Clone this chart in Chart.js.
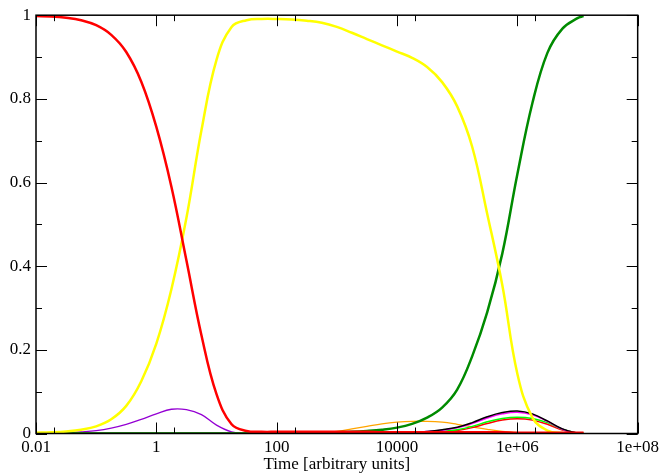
<!DOCTYPE html>
<html>
<head>
<meta charset="utf-8">
<script src="https://cdn.jsdelivr.net/npm/chart.js@4.4.1/dist/chart.umd.min.js"></script>
<style>
  html, body { margin: 0; padding: 0; background: #fff; }
</style>
</head>
<body>
<canvas id="grafico" width="663" height="475"></canvas>
<script>
// tempo (escala log)
const tempo = [0.01, 0.0178, 0.0316, 0.0562, 0.1, 0.178, 0.316, 0.562, 1, 1.78,
  3.16, 5.62, 10, 17.8, 31.6, 56.2, 100, 178, 316, 562,
  1000, 1780, 3160, 5620, 1e4, 17800, 31600, 56200, 1e5, 178000,
  316000, 562000, 1e6, 1780000, 3160000, 5620000, 1e7, 12600000];

const vermelho = [0.998, 0.997, 0.994, 0.988, 0.976, 0.953, 0.912, 0.841, 0.733, 0.590,
  0.414, 0.235, 0.094, 0.022, 0.006, 0.004, 0.004, 0.004, 0.004, 0.004,
  0.004, 0.004, 0.004, 0.003, 0.003, 0.003, 0.003, 0.003, 0.003, 0.003,
  0.003, 0.003, 0.002, 0.002, 0.002, 0.002, 0.002, 0.002];
const amarelo = [0.002, 0.003, 0.005, 0.009, 0.017, 0.034, 0.066, 0.125, 0.215, 0.345,
  0.515, 0.725, 0.893, 0.972, 0.988, 0.991, 0.991, 0.990, 0.987, 0.982,
  0.972, 0.958, 0.943, 0.928, 0.913, 0.898, 0.876, 0.840, 0.782, 0.685,
  0.525, 0.355, 0.143, 0.038, 0.007, 0.001, 0.000, 0.000];
const verdeEscuro = [0, 0, 0, 0, 0, 0, 0, 0, 0, 0,
  0, 0, 0, 0, 0, 0, 0, 0.001, 0.001, 0.002,
  0.003, 0.004, 0.006, 0.009, 0.014, 0.023, 0.038, 0.062, 0.105, 0.185,
  0.290, 0.430, 0.620, 0.790, 0.910, 0.968, 0.993, 0.998];
const violeta = [0.000, 0.001, 0.002, 0.004, 0.007, 0.013, 0.022, 0.034, 0.047, 0.058,
  0.057, 0.045, 0.020, 0.004, 0.000, 0, 0, 0, 0, 0,
  0, 0, 0, 0, 0, 0, 0, 0, 0, 0,
  0, 0, 0, 0, 0, 0, 0, 0];
const laranja = [0, 0, 0, 0, 0, 0, 0, 0, 0, 0,
  0, 0, 0, 0, 0, 0, 0, 0, 0, 0.001,
  0.005, 0.011, 0.017, 0.023, 0.027, 0.029, 0.029, 0.027, 0.022, 0.016,
  0.010, 0.005, 0.002, 0, 0, 0, 0, 0];
const preto = [0, 0, 0, 0, 0, 0, 0, 0, 0, 0,
  0, 0, 0, 0, 0, 0, 0, 0, 0, 0,
  0, 0, 0.001, 0.001, 0.002, 0.003, 0.005, 0.009, 0.015, 0.026,
  0.040, 0.050, 0.054, 0.047, 0.030, 0.011, 0.001, 0.000];
const magenta = [0, 0, 0, 0, 0, 0, 0, 0, 0, 0,
  0, 0, 0, 0, 0, 0, 0, 0, 0, 0,
  0, 0, 0.001, 0.001, 0.002, 0.003, 0.005, 0.008, 0.014, 0.024,
  0.037, 0.047, 0.051, 0.045, 0.029, 0.010, 0.001, 0.000];
const verdeClaro = [0, 0, 0, 0, 0, 0, 0, 0, 0, 0,
  0, 0, 0, 0, 0, 0, 0, 0, 0, 0,
  0, 0, 0.000, 0.001, 0.001, 0.002, 0.003, 0.005, 0.009, 0.017,
  0.028, 0.036, 0.039, 0.036, 0.026, 0.010, 0.001, 0.000];
const vermelho2 = [0, 0, 0, 0, 0, 0, 0, 0, 0, 0,
  0, 0, 0, 0, 0, 0, 0, 0, 0, 0,
  0, 0, 0.000, 0.000, 0.001, 0.001, 0.002, 0.004, 0.007, 0.014,
  0.024, 0.032, 0.035, 0.032, 0.022, 0.008, 0.001, 0.000];

// ticks
const xMajor = [0.01, 1, 100, 1e4, 1e6, 1e8];
const xLabels = ['0.01', '1', '100', '10000', '1e+06', '1e+08'];
const xMinor = [0.02, 2, 200, 2e4, 2e6];
const yMajor = [0, 0.2, 0.4, 0.6, 0.8, 1];
const yLabels = ['0', '0.2', '0.4', '0.6', '0.8', '1'];
const yMinor = [0.1, 0.3, 0.5, 0.7, 0.9];

const fonte = { family: "'Liberation Serif', 'DejaVu Serif', serif", size: 17 };

function serie(valores, cor, largura) {
  return {
    data: tempo.map((t, i) => ({ x: t, y: valores[i] })),
    borderColor: cor,
    borderWidth: largura,
    pointRadius: 0,
    fill: false,
    tension: 0.4
  };
}

// moldura + ticks para dentro (estilo xmgrace)
const moldura = {
  id: 'moldura',
  afterDraw(chart) {
    const { ctx, chartArea: a, scales: { x, y } } = chart;
    ctx.save();
    ctx.strokeStyle = '#000';
    ctx.lineWidth = 1;
    ctx.beginPath();
    const tickX = (v, len) => {
      const px = Math.round(x.getPixelForValue(v)) + 0.5;
      ctx.moveTo(px, a.bottom); ctx.lineTo(px, a.bottom - len);
      ctx.moveTo(px, a.top); ctx.lineTo(px, a.top + len);
    };
    const tickY = (v, len) => {
      const py = Math.round(y.getPixelForValue(v)) + 0.5;
      ctx.moveTo(a.left, py); ctx.lineTo(a.left + len, py);
      ctx.moveTo(a.right, py); ctx.lineTo(a.right - len, py);
    };
    xMajor.forEach(v => tickX(v, 11));
    xMinor.forEach(v => tickX(v, 6));
    yMajor.forEach(v => tickY(v, 11));
    yMinor.forEach(v => tickY(v, 6));
    ctx.stroke();
    ctx.lineWidth = 1.5;
    ctx.strokeRect(a.left, a.top, a.right - a.left, a.bottom - a.top);
    ctx.restore();
  }
};

new Chart(document.getElementById('grafico'), {
  type: 'line',
  data: {
    datasets: [
      serie(vermelho, '#ff0000', 2.5),
      serie(amarelo, '#ffff00', 2.5),
      serie(verdeEscuro, '#008b00', 2.5),
      serie(preto, '#000000', 1.5),
      serie(magenta, '#ff00ff', 1.5),
      serie(verdeClaro, '#00ff00', 1.5),
      serie(vermelho2, '#ff0000', 1.5),
      serie(laranja, '#ffa500', 1.3),
      serie(violeta, '#9400d3', 1.3)
    ]
  },
  options: {
    responsive: false,
    animation: false,
    devicePixelRatio: 1,
    layout: { padding: { top: 12.7, right: 23.5, left: 0, bottom: 0 } },
    plugins: { legend: { display: false }, tooltip: { enabled: false } },
    scales: {
      x: {
        type: 'logarithmic',
        min: 0.01,
        max: 1e8,
        grid: { display: false, drawTicks: false },
        border: { display: false },
        afterBuildTicks: s => { s.ticks = xMajor.map(v => ({ value: v })); },
        afterFit: s => { s.height = 41.5; },
        ticks: {
          autoSkip: false, maxRotation: 0, minRotation: 0,
          padding: 4, color: '#000', font: fonte,
          callback: (v, i) => xLabels[i]
        },
        title: {
          display: true, text: 'Time [arbitrary units]',
          color: '#000', font: fonte, padding: { top: 0, bottom: 0.5 }
        }
      },
      y: {
        type: 'linear',
        min: 0,
        max: 1,
        grid: { display: false, drawTicks: false },
        border: { display: false },
        afterBuildTicks: s => { s.ticks = yMajor.map(v => ({ value: v })); },
        afterFit: s => { s.width = 36; },
        ticks: {
          padding: 5, color: '#000', font: fonte,
          callback: (v, i) => yLabels[i]
        }
      }
    }
  },
  plugins: [moldura]
});
</script>
</body>
</html>
